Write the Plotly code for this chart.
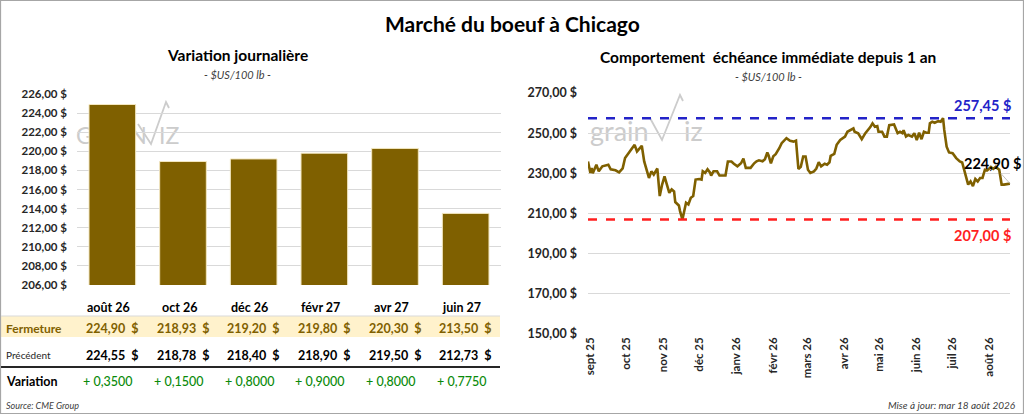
import plotly.graph_objects as go

# ---- data ----
contracts = ['août 26', 'oct 26', 'déc 26', 'févr 27', 'avr 27', 'juin 27']
fermeture = [224.90, 218.93, 219.20, 219.80, 220.30, 213.50]
precedent = [224.55, 218.78, 218.40, 218.90, 219.50, 212.73]
variation = [0.3500, 0.1500, 0.8000, 0.9000, 0.8000, 0.7750]

bar_ticks = [206, 208, 210, 212, 214, 216, 218, 220, 222, 224, 226]

dates = ['2025-08-30', '2025-09-01', '2025-09-02', '2025-09-03', '2025-09-06', '2025-09-08', '2025-09-11',
         '2025-09-16', '2025-09-18', '2025-09-22', '2025-09-25', '2025-09-28', '2025-09-30', '2025-10-03',
         '2025-10-06', '2025-10-08', '2025-10-10', '2025-10-12', '2025-10-14', '2025-10-16', '2025-10-18',
         '2025-10-20', '2025-10-22', '2025-10-24', '2025-10-27', '2025-10-29', '2025-10-31', '2025-11-02',
         '2025-11-04', '2025-11-06', '2025-11-08', '2025-11-10', '2025-11-11', '2025-11-14', '2025-11-15',
         '2025-11-17', '2025-11-20', '2025-11-22', '2025-11-24', '2025-11-26', '2025-11-28', '2025-12-01',
         '2025-12-03', '2025-12-04', '2025-12-06', '2025-12-08', '2025-12-10', '2025-12-11', '2025-12-13',
         '2025-12-16', '2025-12-18', '2025-12-23', '2025-12-25', '2025-12-28', '2025-12-30', '2026-01-02',
         '2026-01-05', '2026-01-07', '2026-01-09', '2026-01-13', '2026-01-16', '2026-01-18', '2026-01-20',
         '2026-01-23', '2026-01-25', '2026-01-27', '2026-01-28', '2026-01-30', '2026-02-01', '2026-02-03',
         '2026-02-06', '2026-02-08', '2026-02-12', '2026-02-15', '2026-02-18', '2026-02-20', '2026-02-22',
         '2026-02-24', '2026-02-26', '2026-02-28', '2026-03-02', '2026-03-04', '2026-03-07', '2026-03-09',
         '2026-03-11', '2026-03-13', '2026-03-16', '2026-03-18', '2026-03-20', '2026-03-21', '2026-03-24',
         '2026-03-26', '2026-03-29', '2026-03-31', '2026-04-02', '2026-04-04', '2026-04-07', '2026-04-09',
         '2026-04-10', '2026-04-13', '2026-04-16', '2026-04-19', '2026-04-23', '2026-04-25', '2026-04-27',
         '2026-04-29', '2026-04-30', '2026-05-03', '2026-05-05', '2026-05-07', '2026-05-09', '2026-05-13',
         '2026-05-16', '2026-05-18', '2026-05-20', '2026-05-21', '2026-05-23', '2026-05-25', '2026-05-28',
         '2026-05-30', '2026-06-01', '2026-06-03', '2026-06-05', '2026-06-07', '2026-06-09', '2026-06-11',
         '2026-06-12', '2026-06-14', '2026-06-16', '2026-06-19', '2026-06-21', '2026-06-23', '2026-06-24',
         '2026-06-26', '2026-06-28', '2026-07-01', '2026-07-04', '2026-07-07', '2026-07-09', '2026-07-11',
         '2026-07-14', '2026-07-16', '2026-07-18', '2026-07-20', '2026-07-22', '2026-07-24', '2026-07-26',
         '2026-07-28', '2026-07-30', '2026-08-02', '2026-08-04', '2026-08-06', '2026-08-09', '2026-08-11',
         '2026-08-13', '2026-08-18']
close = [235.9, 230.2, 232.7, 230.0, 234.3, 231.0, 233.5,
         234.3, 232.0, 231.5, 230.5, 232.5, 237.6, 240.0,
         242.5, 244.2, 240.9, 242.5, 243.7, 235.9, 232.0,
         227.7, 231.0, 229.4, 232.4, 218.7, 224.4, 228.5,
         224.4, 220.3, 222.0, 221.0, 215.7, 214.0, 211.2,
         207.0, 215.4, 214.5, 217.8, 218.7, 226.9, 227.2,
         226.9, 231.0, 230.2, 232.0, 230.5, 228.9, 231.0,
         231.0, 228.9, 228.9, 235.9, 235.9, 234.8, 233.5,
         235.0, 237.3, 232.7, 232.7, 235.0, 236.0, 236.5,
         236.0, 237.0, 240.4, 239.0, 235.0, 238.5, 239.5,
         242.5, 245.0, 247.5, 246.2, 245.8, 246.3, 232.2,
         233.2, 238.4, 238.4, 231.8, 230.2, 231.0, 232.4,
         235.5, 233.5, 234.8, 234.3, 235.5, 238.7, 239.7,
         244.2, 246.6, 247.5, 248.3, 250.7, 251.9, 252.4,
         250.7, 249.9, 247.0, 250.0, 252.9, 254.9, 253.2,
         253.5, 250.7, 250.7, 248.3, 248.3, 254.0, 254.3,
         250.0, 250.7, 250.0, 251.5, 248.3, 249.1, 248.3,
         250.0, 246.6, 250.2, 247.0, 250.7, 250.2, 250.2,
         254.9, 255.7, 255.2, 256.0, 255.7, 257.45, 251.6,
         243.3, 240.4, 240.0, 237.6, 235.9, 235.4, 231.0,
         224.4, 226.0, 223.6, 227.2, 226.0, 227.7, 227.7,
         231.8, 231.5, 233.2, 232.2, 233.2, 231.8, 224.4,
         224.4, 224.90]

month_ticks = ['2025-09-01', '2025-10-01', '2025-11-01', '2025-12-01', '2026-01-01', '2026-02-01',
               '2026-03-01', '2026-04-01', '2026-05-01', '2026-06-01', '2026-07-01', '2026-08-01']
month_labels = ['sept 25', 'oct 25', 'nov 25', 'déc 25', 'janv 26', 'févr 26',
                'mars 26', 'avr 26', 'mai 26', 'juin 26', 'juil 26', 'août 26']
line_ticks = [150, 170, 190, 210, 230, 250, 270]

GOLD = '#7F6000'
FONT = 'Lato'
W, H = 1024, 414


def py(pix):
    # pixel row (from top) -> paper y
    return 1 - pix / H


def fr(v, dec=2):
    return f"{v:.{dec}f}".replace('.', ',')


fig = go.Figure()

fig.add_trace(go.Bar(x=contracts, y=fermeture, marker=dict(color=GOLD, line=dict(color='#F3E7C0', width=1)),
                     xaxis='x', yaxis='y', hoverinfo='skip'))
fig.add_trace(go.Scatter(x=dates, y=close, mode='lines', line=dict(color=GOLD, width=2.6),
                         xaxis='x2', yaxis='y2', hoverinfo='skip'))

hi, lo = max(close), min(close)
shapes = [
    # outer frame
    dict(type='rect', xref='paper', yref='paper', x0=0.0005, x1=0.9995, y0=0.0012, y1=0.9988,
         line=dict(color='#A6A6A6', width=1.2), layer='above'),
    # Fermeture band
    dict(type='rect', xref='paper', yref='paper', x0=0.001, x1=500 / W, y0=py(337), y1=py(316),
         fillcolor='#FFF2CC', line=dict(width=0), layer='below'),
    dict(type='line', xref='paper', yref='paper', x0=0.001, x1=500 / W, y0=py(316), y1=py(316),
         line=dict(color='#D9D9D9', width=1)),
    dict(type='line', xref='paper', yref='paper', x0=0.001, x1=500 / W, y0=py(367), y1=py(367),
         line=dict(color='#262626', width=2)),
    # high / low lines
    dict(type='line', xref='x2 domain', yref='y2', x0=0, x1=1, y0=hi, y1=hi,
         line=dict(color='#2323C8', width=2.6, dash='dash')),
    dict(type='line', xref='x2 domain', yref='y2', x0=0, x1=1, y0=lo, y1=lo,
         line=dict(color='#FF1F1F', width=2.6, dash='dash')),
]


def watermark(x_text, y_text, size, word1, word2, check):
    # light grey grainWiz logo kept behind the data
    res = []
    res.append(dict(type='rect', xref='paper', yref='paper', x0=x_text[0] / W, x1=x_text[1] / W,
                    y0=py(y_text + 12), y1=py(y_text - 12), line=dict(width=0), layer='below',
                    label=dict(text=word1, font=dict(family=FONT, size=size, color='#CCCCCC'),
                               textposition='middle left')))
    res.append(dict(type='rect', xref='paper', yref='paper', x0=x_text[2] / W, x1=x_text[3] / W,
                    y0=py(y_text + 12), y1=py(y_text - 12), line=dict(width=0), layer='below',
                    label=dict(text=word2, font=dict(family=FONT, size=size, color='#CCCCCC'),
                               textposition='middle left')))
    (ax, ay), (bx, by), (cx, cy) = check
    res.append(dict(type='path', xref='paper', yref='paper', layer='below',
                    path=f"M {ax / W},{py(ay)} L {bx / W},{py(by)} L {cx / W},{py(cy)} L {(cx + 3) / W},{py(cy + 6)}",
                    line=dict(color='#CCCCCC', width=1.8)))
    return res


shapes += watermark((584, 652, 678, 700), 130, 27, 'grain', 'iz', ((650, 118), (662, 140), (680, 95)))
shapes += watermark((70, 137, 153, 182), 135, 23, 'GRAIN', 'IZ', ((138, 124), (151, 144), (166, 102)))

ann = []


def txt(x, y, text, size=12, color='black', weight='normal', style='normal', xref='paper', yref='paper',
        xanchor='center', yanchor='middle', **kw):
    ann.append(dict(x=x, y=y, xref=xref, yref=yref, text=text, showarrow=False, xanchor=xanchor,
                    yanchor=yanchor, font=dict(family=FONT, size=size, color=color, weight=weight, style=style),
                    **kw))


txt(0.5, py(23), 'Marché du boeuf à Chicago', size=21, weight='bold')
txt(237 / W, py(55), 'Variation journalière', size=15.5, weight='bold')
txt(237 / W, py(74), '- $US/100 lb -', size=11, style='italic', color='#404040')
txt(768 / W, py(57), 'Comportement  échéance immédiate depuis 1 an', size=15.5, weight='bold')
txt(768 / W, py(77), '- $US/100 lb -', size=11, style='italic', color='#404040')

# table under the bars
for i, c in enumerate(contracts):
    txt(c, py(307), c, size=12.5, weight='bold', xref='x', xshift=-4)
    txt(c, py(328), fr(fermeture[i]) + '  $', size=12.5, weight='bold', color=GOLD, xref='x')
    txt(c, py(355), fr(precedent[i]) + '  $', size=12.5, weight='bold', xref='x')
    txt(c, py(381), '+ ' + fr(variation[i], 4), size=12.5, color='#0A8A0A', weight=500, xref='x', xshift=-4)
txt(4 / W, py(328), 'Fermeture', size=12, weight='bold', color=GOLD, xanchor='left')
txt(4 / W, py(355), 'Précédent', size=10, color='#262626', xanchor='left')
txt(4 / W, py(381), 'Variation', size=12.5, weight='bold', xanchor='left')
txt(4 / W, py(405), 'Source: CME Group', size=9, style='italic', color='#404040', xanchor='left')
txt(1018 / W, py(405), 'Mise à jour: mar 18 août 2026', size=10, style='italic', color='#404040', xanchor='right')

# line chart labels
txt(0.934, hi, fr(hi) + ' $', size=14.5, weight='bold', color='#2323C8', xref='x2 domain', yref='y2',
    yanchor='bottom', yshift=2)
txt(0.934, lo, fr(lo) + ' $', size=14.5, weight='bold', color='#FF1F1F', xref='x2 domain', yref='y2',
    yanchor='top', yshift=-5)
ann.append(dict(x=dates[-1], y=close[-1], xref='x2', yref='y2', text=fr(close[-1]) + ' $', showarrow=True,
                arrowhead=0, arrowwidth=1, arrowcolor='#BFBFBF', ax=-18, ay=-20,
                font=dict(family=FONT, size=14.5, color='black', weight='bold')))

fig.update_layout(
    template='none',
    width=W, height=H, margin=dict(l=0, r=0, t=0, b=0, pad=0, autoexpand=False),
    paper_bgcolor='white', plot_bgcolor='rgba(0,0,0,0)', showlegend=False,
    separators=', ', bargap=0.34,
    font=dict(family=FONT),
    xaxis=dict(domain=[77 / W, 501 / W], showticklabels=False, showgrid=False, zeroline=False,
               showline=False, ticks='', automargin=False),
    yaxis=dict(domain=[py(285), py(94)], range=[206, 226], tickvals=bar_ticks,
               ticktext=[fr(v) + ' $' for v in bar_ticks],
               showgrid=True, gridcolor='#D9D9D9', gridwidth=1, zeroline=False, showline=False, ticks='',
               tickfont=dict(family=FONT, size=11.5, color='#262626', weight='bold'),
               ticklabelstandoff=9, automargin=False),
    xaxis2=dict(domain=[588 / W, 1010 / W], anchor='y2', type='date', range=['2025-08-30', '2026-08-18'],
                tickvals=month_ticks, ticktext=month_labels, tickangle=-90, showgrid=False, zeroline=False,
                showline=False, ticks='', automargin=False,
                tickfont=dict(family=FONT, size=11.5, color='#262626', weight='bold')),
    yaxis2=dict(domain=[py(334), py(93)], anchor='x2', range=[150, 270], tickvals=line_ticks,
                ticktext=[fr(v) + ' $' for v in line_ticks],
                showgrid=True, gridcolor='#D9D9D9', gridwidth=1, zeroline=False, showline=False,
                ticks='', tickfont=dict(family=FONT, size=12.5, color='#262626', weight='bold'),
                ticklabelstandoff=10, automargin=False),
    shapes=shapes, annotations=ann,
)

fig.write_html("out.html", config={'displayModeBar': False},
               post_script="document.body.style.margin='0px';")
